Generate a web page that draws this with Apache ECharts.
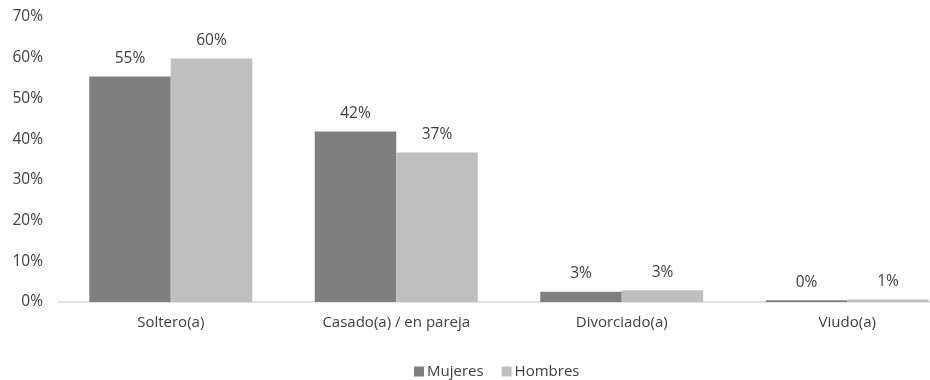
<!DOCTYPE html>
<html>
<head>
<meta charset="utf-8">
<script src="https://cdn.jsdelivr.net/npm/echarts@6/dist/echarts.min.js"></script>
<style>
  html, body { margin: 0; padding: 0; background: #ffffff; }
  #chart { width: 930px; height: 380px; }
</style>
</head>
<body>
<div id="chart"></div>
<script>
// Estado civil por sexo (porcentaje)
const categories = ['Soltero(a)', 'Casado(a) / en pareja', 'Divorciado(a)', 'Viudo(a)'];
const mujeres = [55.4, 41.9, 2.5, 0.4];
const hombres = [59.8, 36.7, 2.9, 0.6];
const yTicks = [0, 10, 20, 30, 40, 50, 60, 70];

const font = '"Open Sans", "Noto Sans", sans-serif';
const textColor = '#404040';

const chart = echarts.init(document.getElementById('chart'), null, { renderer: 'canvas' });

const pctLabel = {
  show: true,
  position: 'top',
  distance: 10,
  color: textColor,
  fontFamily: font,
  fontSize: 15.5,
  formatter: p => Math.round(p.value) + '%'
};

chart.setOption({
  animation: false,
  backgroundColor: '#ffffff',
  textStyle: { fontFamily: font },
  grid: { left: 58, top: 17, width: 902, bottom: 78, containLabel: false, outerBoundsMode: 'none' },
  legend: {
    top: 359,
    left: 409,
    itemWidth: 10,
    itemHeight: 10,
    itemGap: 18,
    icon: 'rect',
    textStyle: { color: textColor, fontFamily: font, fontSize: 15, padding: [0, 0, 0, -2] },
    data: ['Mujeres', 'Hombres']
  },
  xAxis: {
    type: 'category',
    data: categories,
    axisLine: { lineStyle: { color: '#d9d9d9', width: 1.5 } },
    axisTick: { show: false },
    axisLabel: { color: textColor, fontFamily: font, fontSize: 15, margin: 13 }
  },
  yAxis: {
    type: 'value',
    min: yTicks[0],
    max: yTicks[yTicks.length - 1],
    interval: 10,
    splitLine: { show: false },
    axisLine: { show: false },
    axisTick: { show: false },
    axisLabel: {
      color: textColor, fontFamily: font, fontSize: 15.5, margin: 15,
      formatter: v => v + '%'
    }
  },
  series: [
    {
      name: 'Mujeres',
      type: 'bar',
      data: mujeres,
      barWidth: 81.5,
      barGap: '0%',
      itemStyle: { color: '#7f7f7f' },
      label: pctLabel
    },
    {
      name: 'Hombres',
      type: 'bar',
      data: hombres,
      barWidth: 81.5,
      barGap: '0%',
      itemStyle: { color: '#bfbfbf' },
      label: pctLabel
    }
  ]
});
</script>
</body>
</html>
